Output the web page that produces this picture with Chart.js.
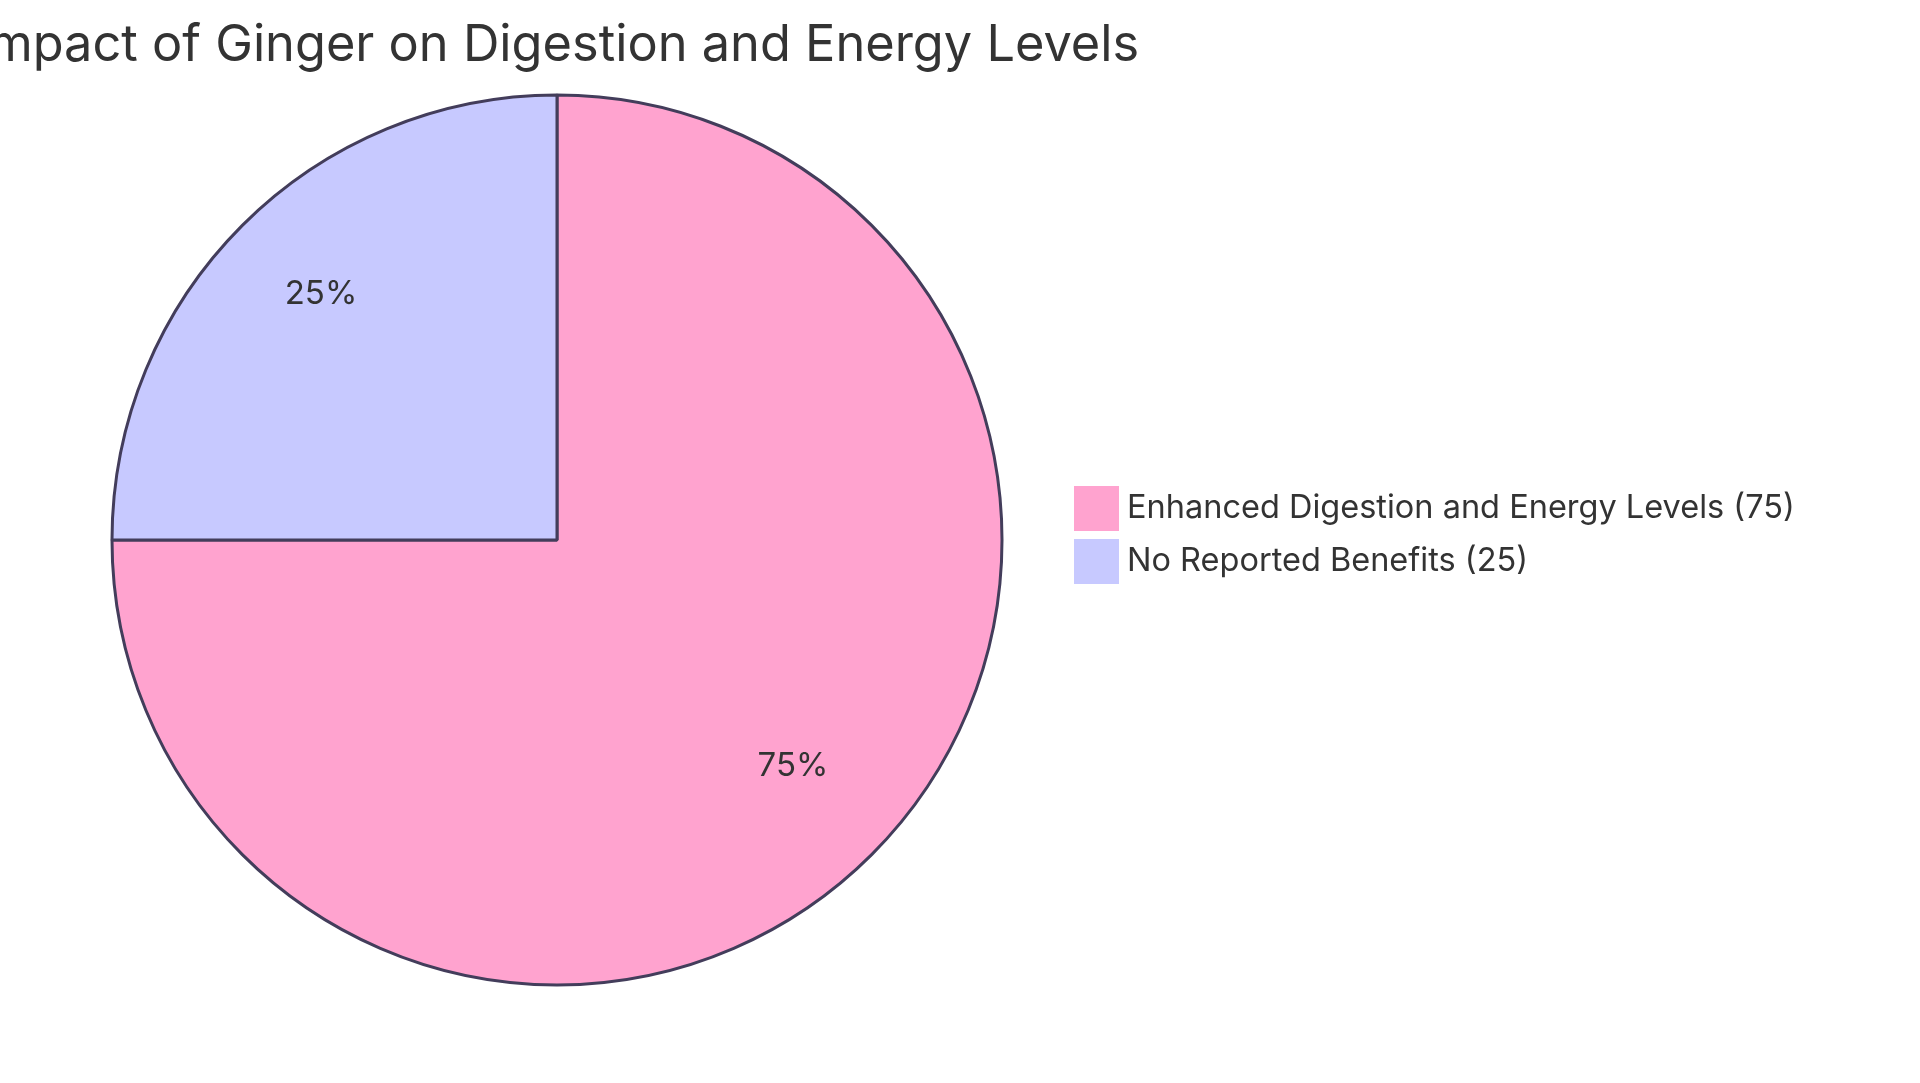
<!DOCTYPE html>
<html>
<head>
<meta charset="utf-8">
<script src="https://cdn.jsdelivr.net/npm/chart.js@4/dist/chart.umd.min.js"></script>
<style>
  html, body { margin: 0; padding: 0; background: #ffffff; }
  #wrap { width: 1920px; height: 1083px; position: relative; }
</style>
</head>
<body>
<div id="wrap"><canvas id="c"></canvas></div>
<script>
const titleText = "Impact of Ginger on Digestion and Energy Levels";
const categories = ["Enhanced Digestion and Energy Levels", "No Reported Benefits"];
const values = [75, 25];
const sliceColors = ["#FFA3CF", "#C7C9FF"];

const FONT = "Inter, 'Noto Sans', sans-serif";
const TEXT_COLOR = "#333333";
const BORDER_COLOR = "#433D5B";
const TITLE_FONT_SIZE = 50.5;
const LEGEND_FONT_SIZE = 32.5;
const LEGEND_SWATCH = 45;      // drawn square size
const LEGEND_BOX_W = 28.5;     // layout width reserved before the text
const LEGEND_PAD = 20.5;

// square swatches used as legend point styles
function makeSwatch(color) {
  const cv = document.createElement("canvas");
  cv.width = LEGEND_SWATCH; cv.height = LEGEND_SWATCH;
  const c = cv.getContext("2d");
  c.fillStyle = color;
  c.fillRect(0, 0, LEGEND_SWATCH, LEGEND_SWATCH);
  return cv;
}
const swatches = sliceColors.map(makeSwatch);

// measure legend text width so the legend's left edge lands where wanted
const mctx = document.createElement("canvas").getContext("2d");
mctx.font = "normal " + LEGEND_FONT_SIZE + "px " + FONT;
const legendTexts = categories.map((c, i) => c + " (" + values[i] + ")");
const maxTextW = Math.max(...legendTexts.map(t => mctx.measureText(t).width));
const legendW = LEGEND_PAD + LEGEND_BOX_W + LEGEND_FONT_SIZE / 2 + maxTextW + 10;
const legendLeft = 1061.75;
const padLeft = 2 * 557 - legendLeft;
const padRight = Math.max(0, 1920 - legendLeft - legendW);

// title drawn over the pie's centre, allowed to overflow the canvas like the original
const titlePlugin = {
  id: "overflowTitle",
  afterDraw(chart) {
    const ctx = chart.ctx;
    const ca = chart.chartArea;
    ctx.save();
    ctx.font = "normal " + TITLE_FONT_SIZE + "px " + FONT;
    ctx.fillStyle = TEXT_COLOR;
    ctx.textAlign = "center";
    ctx.textBaseline = "alphabetic";
    ctx.fillText(titleText, (ca.left + ca.right) / 2, 61);
    ctx.restore();
  }
};

// nudge the legend block slightly upward
const legendNudge = {
  id: "legendNudge",
  afterLayout(chart) {
    if (chart.legend) { chart.legend.top -= 5; chart.legend.bottom -= 5; }
  }
};

const pctLabels = {
  id: "pctLabels",
  afterDatasetsDraw(chart) {
    const meta = chart.getDatasetMeta(0);
    const data = chart.data.datasets[0].data;
    const total = data.reduce((a, b) => a + b, 0);
    const ctx = chart.ctx;
    ctx.save();
    ctx.font = "normal 33px " + FONT;
    ctx.fillStyle = TEXT_COLOR;
    ctx.textAlign = "center";
    ctx.textBaseline = "alphabetic";
    meta.data.forEach((arc, i) => {
      const p = arc.getProps(["x", "y", "startAngle", "endAngle", "outerRadius"], true);
      const mid = (p.startAngle + p.endAngle) / 2;
      const r = p.outerRadius * 0.75;
      const px = p.x + Math.cos(mid) * r;
      const py = p.y + Math.sin(mid) * r;
      ctx.fillText(Math.round(data[i] / total * 100) + "%", px, py);
    });
    ctx.restore();
  }
};

new Chart(document.getElementById("c"), {
  type: "pie",
  data: {
    labels: categories,
    datasets: [{
      data: values,
      backgroundColor: sliceColors,
      borderColor: BORDER_COLOR,
      borderWidth: 3,
      hoverOffset: 0
    }]
  },
  options: {
    responsive: true,
    maintainAspectRatio: false,
    animation: false,
    events: [],
    layout: { padding: { left: padLeft, right: padRight, top: 93.5, bottom: 96.5 } },
    plugins: {
      tooltip: { enabled: false },
      title: { display: false },
      legend: {
        display: true,
        position: "right",
        fullSize: false,
        align: "center",
        labels: {
          color: TEXT_COLOR,
          font: { family: FONT, size: LEGEND_FONT_SIZE },
          usePointStyle: true,
          pointStyleWidth: LEGEND_BOX_W,
          boxWidth: LEGEND_FONT_SIZE,
          boxHeight: LEGEND_FONT_SIZE,
          padding: LEGEND_PAD,
          generateLabels(chart) {
            const ds = chart.data.datasets[0];
            return chart.data.labels.map((lab, i) => ({
              text: lab + " (" + ds.data[i] + ")",
              fillStyle: ds.backgroundColor[i],
              strokeStyle: "rgba(0,0,0,0)",
              lineWidth: 0,
              pointStyle: swatches[i],
              fontColor: TEXT_COLOR,
              hidden: false,
              index: i
            }));
          }
        }
      }
    }
  },
  plugins: [pctLabels, titlePlugin, legendNudge]
});
</script>
</body>
</html>
